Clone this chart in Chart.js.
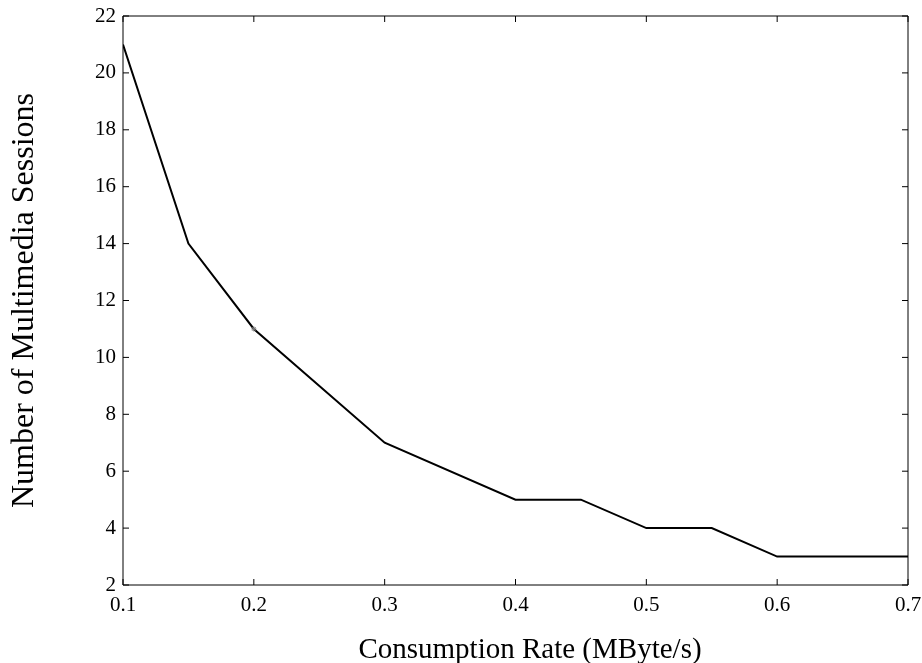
<!DOCTYPE html>
<html>
<head>
<meta charset="utf-8">
<title>Multimedia sessions vs consumption rate</title>
<script src="https://cdn.jsdelivr.net/npm/chart.js@4/dist/chart.umd.min.js"></script>
<style>
  html, body { margin: 0; padding: 0; background: #fff; }
  canvas { display: block; }
</style>
</head>
<body>
<canvas id="sessionsChart" width="922" height="663"></canvas>
<script>
// Datos
const rates = [0.1, 0.15, 0.2, 0.3, 0.4, 0.45, 0.5, 0.55, 0.6, 0.7];
const sessions = [21, 14, 11, 7, 5, 5, 4, 4, 3, 3];

const xTickLabels = ['0.1', '0.2', '0.3', '0.4', '0.5', '0.6', '0.7'];
const yTickLabels = ['2', '4', '6', '8', '10', '12', '14', '16', '18', '20', '22'];

const serif = "'Liberation Serif', 'DejaVu Serif', serif";

// Caja y marcas hacia dentro en los cuatro lados (estilo MATLAB)
const boxTicks = {
    id: 'boxTicks',
    afterDraw(chart) {
        const { ctx, chartArea: a, scales } = chart;
        const len = 6;
        ctx.save();
        ctx.strokeStyle = '#000';
        ctx.lineWidth = 1;
        ctx.beginPath();
        ctx.rect(a.left, a.top, a.right - a.left, a.bottom - a.top);
        scales.x.ticks.forEach(t => {
            const px = scales.x.getPixelForValue(t.value);
            ctx.moveTo(px, a.bottom);
            ctx.lineTo(px, a.bottom - len);
            ctx.moveTo(px, a.top);
            ctx.lineTo(px, a.top + len);
        });
        scales.y.ticks.forEach(t => {
            const py = scales.y.getPixelForValue(t.value);
            ctx.moveTo(a.left, py);
            ctx.lineTo(a.left + len, py);
            ctx.moveTo(a.right, py);
            ctx.lineTo(a.right - len, py);
        });
        ctx.stroke();
        ctx.restore();
    }
};

new Chart(document.getElementById('sessionsChart'), {
    type: 'line',
    data: {
        datasets: [{
            data: rates.map((r, i) => ({ x: r, y: sessions[i] })),
            borderColor: '#000',
            borderWidth: 2,
            tension: 0,
            fill: false,
            pointStyle: 'star',
            pointRadius: rates.map(r => (r === 0.2 ? 2.5 : 0)),
            pointBorderColor: '#777',
            pointBorderWidth: 1
        }]
    },
    options: {
        responsive: false,
        devicePixelRatio: 1,
        animation: false,
        layout: { padding: { left: 0, top: 16, right: 14, bottom: 0 } },
        plugins: {
            legend: { display: false },
            tooltip: { enabled: false }
        },
        scales: {
            x: {
                type: 'linear',
                min: 0.1,
                max: 0.7,
                afterFit(scale) {
                    scale.height = 78;
                    scale.paddingLeft = 0;
                    scale.paddingRight = 0;
                },
                grid: { display: false, drawTicks: false },
                border: { display: false },
                ticks: {
                    stepSize: 0.1,
                    padding: 8,
                    color: '#000',
                    font: { family: serif, size: 21 },
                    callback: (v, i) => xTickLabels[i]
                },
                title: {
                    display: true,
                    // espacio inicial: el título del original está algo desplazado a la derecha
                    text: '\u2003Consumption Rate (MByte/s)',
                    color: '#000',
                    font: { family: serif, size: 29, lineHeight: 0.9 },
                    padding: 0
                }
            },
            y: {
                min: 2,
                max: 22,
                afterFit(scale) {
                    scale.width = 123;
                    scale.paddingTop = 0;
                    scale.paddingBottom = 0;
                },
                grid: { display: false, drawTicks: false },
                border: { display: false },
                ticks: {
                    stepSize: 2,
                    padding: 7,
                    color: '#000',
                    font: { family: serif, size: 21 },
                    callback: (v, i) => yTickLabels[i]
                },
                title: {
                    display: true,
                    text: 'Number of Multimedia Sessions',
                    color: '#000',
                    font: { family: serif, size: 32 },
                    padding: { top: 5, bottom: 0 }
                }
            }
        }
    },
    plugins: [boxTicks]
});
</script>
</body>
</html>
